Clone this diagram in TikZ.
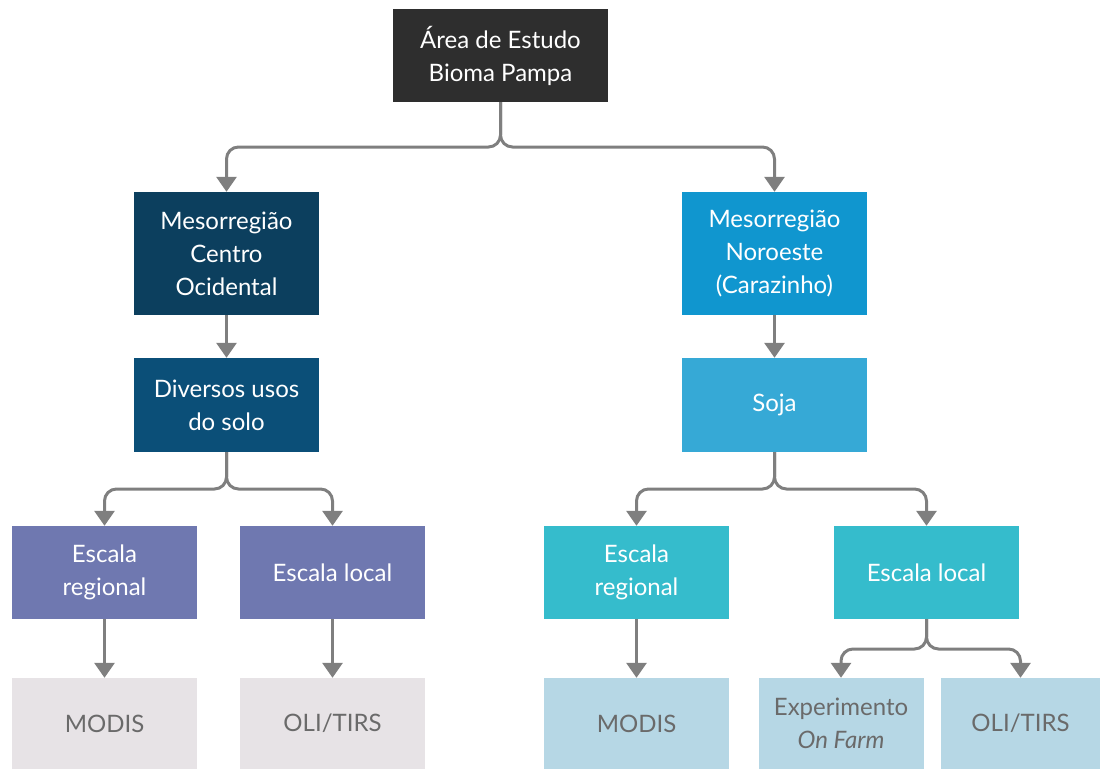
\documentclass[tikz,border=0pt]{standalone}
\usepackage{fontspec}
\setmainfont{Lato}
\usetikzlibrary{arrows.meta}
\definecolor{cTop}{HTML}{2E2E2E}
\definecolor{cCentro}{HTML}{0C3F5E}
\definecolor{cDiv}{HTML}{0B4F78}
\definecolor{cNor}{HTML}{1096CF}
\definecolor{cSoja}{HTML}{36A9D6}
\definecolor{cPurp}{HTML}{6F78B0}
\definecolor{cTeal}{HTML}{35BCCC}
\definecolor{cLGray}{HTML}{E7E3E6}
\definecolor{cLBlue}{HTML}{B6D7E5}
\definecolor{cTxtG}{HTML}{6A6A6A}
\definecolor{cLine}{HTML}{7F7F7F}
\tikzset{
  box/.style={rectangle, inner sep=0pt, align=center, text=white,
    font=\fontsize{24}{33}\selectfont},
  lbox/.style={box, text=cTxtG},
  conn/.style={draw=cLine, line width=3pt, rounded corners=12pt,
    -{Triangle[length=15pt,width=20pt]}},
}
\begin{document}
\begin{tikzpicture}[x=1pt,y=-1pt]
\useasboundingbox (0,0) rectangle (1103,769);
\node[box, fill=cTop, minimum width=215pt, minimum height=93pt] (top) at (500.5,55.5) {Área de Estudo\\Bioma Pampa};
\node[box, fill=cCentro, minimum width=185pt, minimum height=123pt] (centro) at (226.5,253.5) {Mesorregião\\Centro\\Ocidental};
\node[box, fill=cDiv, minimum width=185pt, minimum height=94pt] (div) at (226.5,405) {Diversos usos\\do solo};
\node[box, fill=cPurp, minimum width=185pt, minimum height=93pt] (erl) at (104.5,572.5) {Escala\\regional};
\node[box, fill=cPurp, minimum width=185pt, minimum height=93pt] (ell) at (332.5,572.5) {Escala local};
\node[lbox, fill=cLGray, minimum width=185pt, minimum height=91pt] (modl) at (104.5,723.5) {MODIS};
\node[lbox, fill=cLGray, minimum width=185pt, minimum height=91pt] (olil) at (332.5,723.5) {OLI/TIRS};
\node[box, fill=cNor, minimum width=185pt, minimum height=123pt] (nor) at (774.5,253.5) {Mesorregião\\Noroeste\\(Carazinho)};
\node[box, fill=cSoja, minimum width=185pt, minimum height=94pt] (soja) at (774.5,405) {Soja};
\node[box, fill=cTeal, minimum width=185pt, minimum height=93pt] (err) at (636.5,572.5) {Escala\\regional};
\node[box, fill=cTeal, minimum width=185pt, minimum height=93pt] (elr) at (926.5,572.5) {Escala local};
\node[lbox, fill=cLBlue, minimum width=185pt, minimum height=91pt] (modr) at (636.5,723.5) {MODIS};
\node[lbox, fill=cLBlue, minimum width=165pt, minimum height=91pt] (exp) at (841,723.5) {Experimento\\\textit{On Farm}};
\node[lbox, fill=cLBlue, minimum width=159pt, minimum height=91pt] (olir) at (1020.5,723.5) {OLI/TIRS};
% connectors
\draw[conn] (top.south) -- (top.south |- 0,147) -| (centro.north);
\draw[conn] (top.south) -- (top.south |- 0,147) -| (nor.north);
\draw[conn] (centro) -- (div);
\draw[conn] (nor) -- (soja);
\draw[conn] (div.south) -- (div.south |- 0,489) -| (erl.north);
\draw[conn] (div.south) -- (div.south |- 0,489) -| (ell.north);
\draw[conn] (soja.south) -- (soja.south |- 0,489) -| (err.north);
\draw[conn] (soja.south) -- (soja.south |- 0,489) -| (elr.north);
\draw[conn] (erl) -- (modl);
\draw[conn] (ell) -- (olil);
\draw[conn] (err) -- (modr);
\draw[conn] (elr.south) -- (elr.south |- 0,649) -| (exp.north);
\draw[conn] (elr.south) -- (elr.south |- 0,649) -| (olir.north);
\end{tikzpicture}
\end{document}
